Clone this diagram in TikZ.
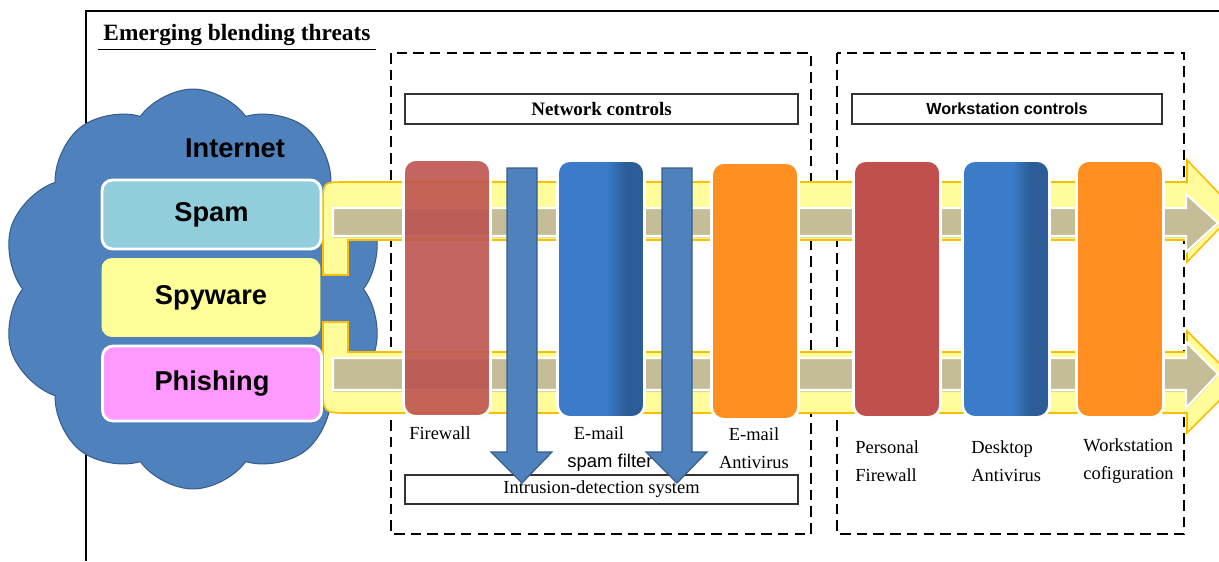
\documentclass[tikz,border=0pt]{standalone}
\usepackage{fontspec}
\setmainfont{Liberation Serif}
\setsansfont{Liberation Sans}
\usetikzlibrary{arrows.meta, positioning, shapes.symbols, shadows}

\definecolor{cloudblue}{RGB}{79,129,189}
\definecolor{cloudedge}{RGB}{56,93,138}
\definecolor{spamblue}{RGB}{146,205,220}
\definecolor{spyyellow}{RGB}{255,255,153}
\definecolor{phishpink}{RGB}{255,153,255}
\definecolor{bandyellow}{RGB}{255,252,153}
\definecolor{bandorange}{RGB}{250,190,0}
\definecolor{flowtan}{RGB}{196,189,151}
\definecolor{ctrlred}{RGB}{192,80,77}
\definecolor{ctrlorange}{RGB}{255,143,33}
\definecolor{barlight}{RGB}{59,124,201}
\definecolor{bardark}{RGB}{44,93,152}
\pgfdeclarehorizontalshading{ctrlblue}{100bp}{color(0bp)=(barlight); color(53bp)=(barlight); color(64bp)=(bardark); color(100bp)=(bardark)}

\begin{document}
\begin{tikzpicture}[x=0.02cm, y=-0.02cm,
    ctrl/.style={rounded corners=7pt, draw=white, line width=1.6pt,
      minimum width=1.74cm, minimum height=5.14cm,
      drop shadow={opacity=0.25, shadow xshift=0.5pt, shadow yshift=-0.7pt}},
    threat/.style={rounded corners=6pt, draw=white, line width=1.6pt,
      minimum width=4.38cm, font=\sffamily\bfseries\fontsize{15.5}{18}\selectfont,
      drop shadow={opacity=0.2, shadow xshift=0.5pt, shadow yshift=-0.7pt}},
    hdr/.style={draw=black!80, line width=0.7pt, minimum width=7.86cm, minimum height=0.6cm},
    grp/.style={draw, line width=1.2pt, dash pattern=on 6pt off 3.5pt},
    band/.style={fill=bandyellow, draw=bandorange, line width=0.9pt},
    flow/.style={fill=flowtan, draw=white, line width=1.2pt,
      drop shadow={opacity=0.3, shadow xshift=0pt, shadow yshift=-1.2pt}},
    ids/.style={fill=cloudblue, draw=cloudedge, line width=0.7pt},
    lbl/.style={font=\fontsize{10.5}{16}\selectfont, inner sep=0pt},
  ]
  \useasboundingbox (0,0) rectangle (1219,561);

  \draw[line width=1.1pt] (86,561) -- (86,11) -- (1219,11);
  \node[font=\bfseries\fontsize{13.3}{16}\selectfont, inner xsep=3pt, inner ysep=2.3pt] (title) at (237,34.5) {Emerging blending threats};
  \draw[line width=0.8pt] (title.south west) -- (title.south east);

  \draw[grp] (391,53) rectangle (811,534);
  \draw[grp] (837,53) rectangle (1184,534);
  \node[hdr, font=\bfseries\fontsize{10.8}{13}\selectfont] (netctl) at (601.5,109) {Network controls};
  \node[hdr, minimum width=6.2cm, font=\sffamily\bfseries\fontsize{9.2}{11}\selectfont] (wsctl) at (1007,109) {Workstation controls};

  \node[cloud, cloud puffs=10, cloud puff arc=110, cloud ignores aspect, fill=cloudblue, draw=cloudedge, line width=0.6pt,
    minimum width=7.65cm, minimum height=8cm] (inet) at (193,289) {};
  \node[font=\sffamily\bfseries\fontsize{15.5}{18}\selectfont] (inettxt) at (235,148) {Internet};

  \draw[band] (323,275) -- (348,275) -- (348,240) -- (1187,240) -- (1187,262) -- (1236,211) -- (1187,160)
    -- (1187,182) -- (345,182) .. controls (323,182) .. (323,204) -- cycle;
  \draw[band] (323,322) -- (348,322) -- (348,352) -- (1187,352) -- (1187,331) -- (1238,382) -- (1187,433)
    -- (1187,413) -- (350,413) .. controls (323,413) .. (323,386) -- cycle;

  \node[threat, fill=spamblue, minimum height=1.38cm] (spam) at (211.5,214.5) {Spam};
  \node[threat, fill=spyyellow, draw=none, minimum height=1.58cm] (spyware) at (211,297.5) {Spyware};
  \node[threat, fill=phishpink, minimum height=1.5cm] (phishing) at (212,383.5) {Phishing};

  \draw[flow] (333,208) -- (1186,208) -- (1186,194) -- (1218,223) -- (1186,252) -- (1186,236) -- (333,236) -- cycle;
  \draw[flow] (333,358) -- (1186,358) -- (1186,342) -- (1218,374) -- (1186,408) -- (1186,390) -- (333,390) -- cycle;

  \node[ctrl, fill=ctrlred, fill opacity=0.85] (fw) at (447,288) {};
  \node[ctrl, shading=ctrlblue] (spamf) at (601,289) {};
  \node[ctrl, fill=ctrlorange] (mailav) at (755,291) {};
  \node[ctrl, fill=ctrlred] (pfw) at (897,289) {};
  \node[ctrl, shading=ctrlblue] (dav) at (1006,289) {};
  \node[ctrl, fill=ctrlorange] (wscfg) at (1120,289) {};

  \node[lbl] (fwl) at (440,433) {Firewall};
  \node[lbl] (spamfl) at (599,433) {E-mail};
  \node[lbl, font=\sffamily\fontsize{10.5}{12}\selectfont] (spamfl2) at (610,463) {spam filter};
  \node[lbl, align=center] (mailavl) at (754,448) {E-mail\\Antivirus};
  \node[lbl, align=left, anchor=west] (pfwl) at (855,461) {Personal\\Firewall};
  \node[lbl, align=left, anchor=west] (davl) at (971,461) {Desktop\\Antivirus};
  \node[lbl, align=left, anchor=west] (wscfgl) at (1083,461) {Workstation\\cofiguration};

  \node[hdr, minimum height=0.58cm, font=\fontsize{10.5}{12}\selectfont] (ids) at (601.5,489.5) {Intrusion-detection system};

  \draw[ids] (507,168) -- (537,168) -- (537,452) -- (552,452) -- (522,483) -- (491,452) -- (507,452) -- cycle;
  \draw[ids] (662,168) -- (692,168) -- (692,452) -- (707,452) -- (677,483) -- (646,452) -- (662,452) -- cycle;
\end{tikzpicture}
\end{document}
